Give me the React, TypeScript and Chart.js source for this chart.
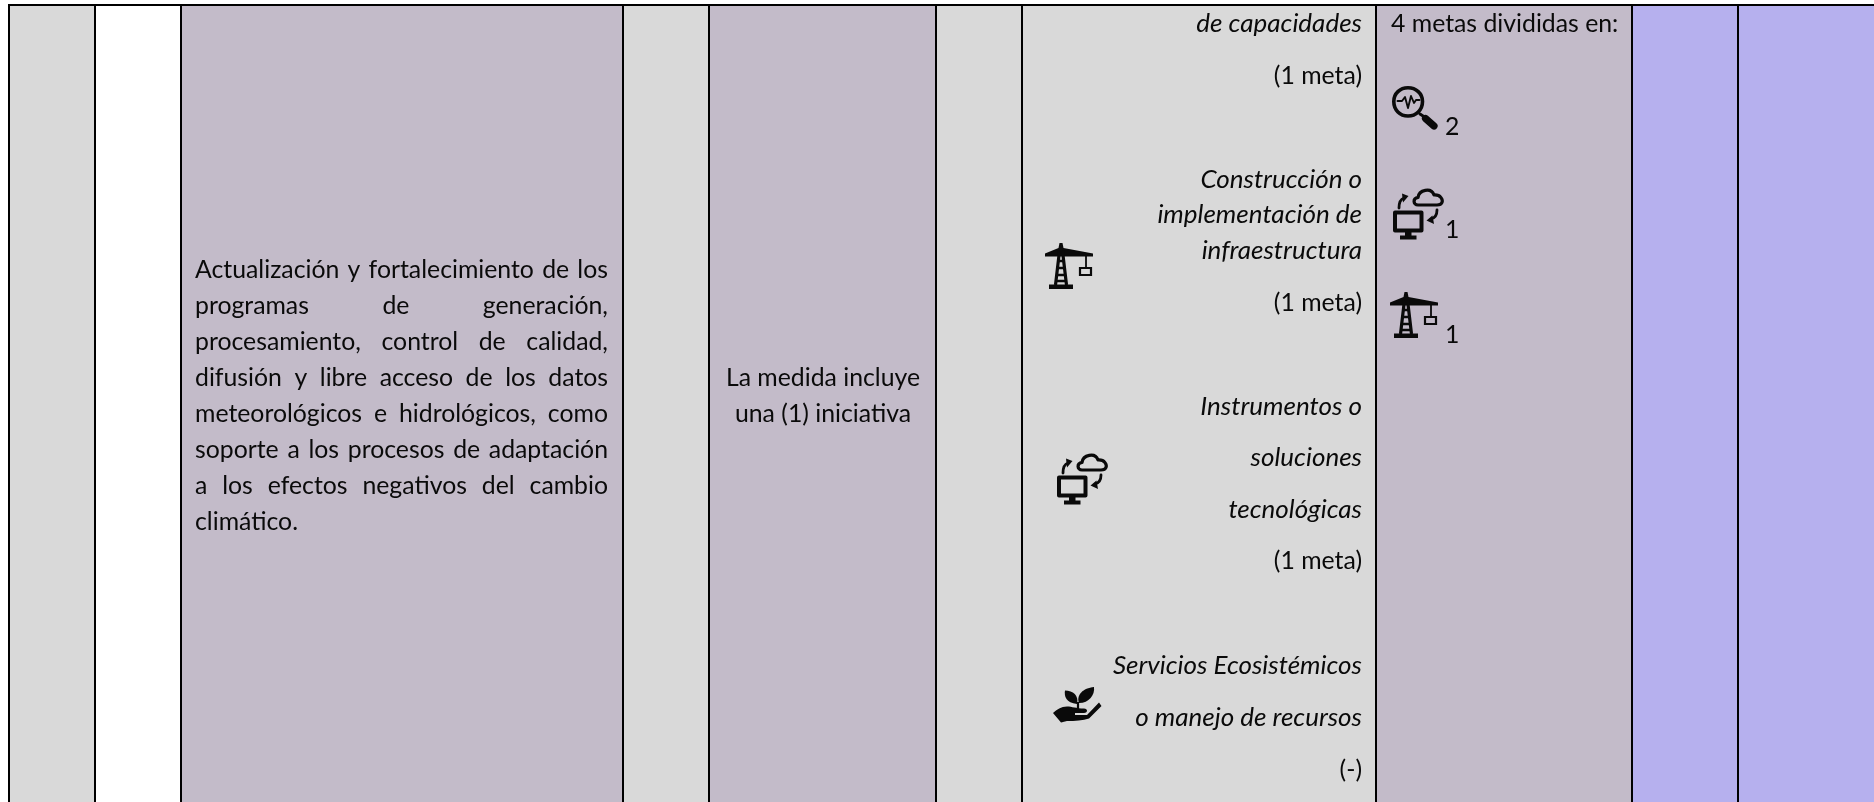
import React, { useEffect, useRef } from "react";
import { Chart, registerables } from "chart.js";

Chart.register(...registerables);

const GREY = "#D9D9D9";
const MAUVE = "#C3BBC9";
const WHITE = "#FFFFFF";
const LAVENDER = "#B6B0EE";

const rowLabels = ["Medida"];
const columnWidths = [86, 86, 442, 86, 227, 86, 354, 256, 106, 137];
const columnColors = [GREY, WHITE, MAUVE, GREY, MAUVE, GREY, GREY, MAUVE, LAVENDER, LAVENDER];

const paragraphLines = [
  "Actualización y fortalecimiento de los",
  "programas de generación,",
  "procesamiento, control de calidad,",
  "difusión y libre acceso de los datos",
  "meteorológicos e hidrológicos, como",
  "soporte a los procesos de adaptación",
  "a los efectos negativos del cambio",
  "climático.",
];
const initiativeLines = ["La medida incluye", "una (1) iniciativa"];
const goalLines: [string, boolean, number][] = [
  ["de capacidades", true, 32],
  ["(1 meta)", false, 84],
  ["Construcción o", true, 188],
  ["implementación de", true, 223],
  ["infraestructura", true, 259],
  ["(1 meta)", false, 311],
  ["Instrumentos o", true, 415],
  ["soluciones", true, 466],
  ["tecnológicas", true, 518],
  ["(1 meta)", false, 569],
  ["Servicios Ecosistémicos", true, 674],
  ["o manejo de recursos", true, 726],
  ["(-)", false, 778],
];
const goalHeader = "4 metas divididas en:";
const goalCounts: [string, number][] = [["2", 135], ["1", 238], ["1", 343]];

const FONT = "Lato, Carlito, sans-serif";
const SIZE = 24.8;
const ITALIC_SIZE = 26;

function stroke(ctx: CanvasRenderingContext2D, d: string, w: number) {
  ctx.lineWidth = w;
  ctx.stroke(new Path2D(d));
}
function fill(ctx: CanvasRenderingContext2D, d: string) {
  ctx.fill(new Path2D(d));
}

function crane(ctx: CanvasRenderingContext2D, x: number, y: number) {
  ctx.save();
  ctx.translate(x, y);
  ctx.lineCap = "butt";
  ctx.lineJoin = "miter";
  fill(ctx, "M14.5 0 L17.5 0 L18.5 5 L48 10.5 L48 13.5 L0 13.5 L0 10.5 L13.5 5 Z");
  stroke(ctx, "M14.5 8 L10.5 42 M17.5 8 L21.5 42", 3.2);
  stroke(ctx, "M13 18 H19 M12 25 H20 M11.5 32 H20.5 M11 38 H21", 2.4);
  fill(ctx, "M4 41.5 H28 V46 H4 Z");
  stroke(ctx, "M41 13 V24", 1.8);
  stroke(ctx, "M35 25 H46 V32 H35 Z", 2.2);
  ctx.restore();
}

function cloudPc(ctx: CanvasRenderingContext2D, x: number, y: number) {
  ctx.save();
  ctx.translate(x, y);
  ctx.lineJoin = "round";
  ctx.lineCap = "round";
  stroke(ctx, "M2 25.5 H28.5 V43.5 H2 Z", 4);
  fill(ctx, "M12 44 H18.5 V48.5 H23.5 V52.5 H7 V48.5 H12 Z");
  stroke(ctx, "M25 18 C20 18 19.5 11 25 10.5 C26 3 38 0 41 8 C48 7.5 50 13 49 15.5 C48 18 46 18 44 18 Z", 3.2);
  stroke(ctx, "M6 21 C6 15 8 12 11 11", 2.8);
  fill(ctx, "M15.5 9 L9 6.5 L10 15.5 Z");
  stroke(ctx, "M44 23 C44 28 42 31 38 32", 2.8);
  fill(ctx, "M33.5 33.5 L39.5 28.5 L41 37 Z");
  ctx.restore();
}

function magnifier(ctx: CanvasRenderingContext2D, x: number, y: number) {
  ctx.save();
  ctx.translate(x, y);
  ctx.lineCap = "round";
  ctx.lineJoin = "round";
  stroke(ctx, "M30.5 15.5 C30.5 24 24 30 16 30 C8 30 1.8 24 1.8 15.5 C1.8 7.5 8 1.8 16 1.8 C24 1.8 30.5 7.5 30.5 15.5 Z", 3.6);
  stroke(ctx, "M5.5 15 H10 L13 11 L16 22 L19 10 L22 17 L24 14 H27.5", 1.9);
  stroke(ctx, "M28 28 L31 30", 3);
  stroke(ctx, "M33.5 32.5 L42 40", 7.2);
  ctx.restore();
}

function plant(ctx: CanvasRenderingContext2D, x: number, y: number) {
  ctx.save();
  ctx.translate(x, y);
  fill(ctx, "M24 17 C13 16 11 9 12 3.5 C20 4 26 8 24 17 Z");
  fill(ctx, "M26 16 C23 8 30 1 41 0 C42 8 36 16 26 16 Z");
  ctx.lineWidth = 2.2;
  ctx.stroke(new Path2D("M25 15 V22"));
  fill(ctx, "M0 26 C4 22.5 8 19.5 14 19.5 C19 19.5 23 21.5 31 21.5 C35 21.5 35 26 31 26 L22 26 L22 28 L34 28 L46 15.5 L48.5 19 L36 31.5 C30 33.5 22 34 14 34 L8 35.5 Z");
  ctx.restore();
}

const tablePlugin = {
  id: "tableText",
  afterDatasetsDraw(chart: Chart) {
    const ctx = chart.ctx;
    ctx.save();
    ctx.fillStyle = "#0a0a0a";
    ctx.strokeStyle = "#0a0a0a";
    ctx.textBaseline = "alphabetic";

    const upright = `${SIZE}px ${FONT}`;
    const italic = `italic ${ITALIC_SIZE}px ${FONT}`;

    // Justified paragraph
    ctx.font = upright;
    ctx.textAlign = "left";
    const left = 195;
    const right = 608;
    paragraphLines.forEach((line, i) => {
      const y = 278 + i * 36;
      if (i === paragraphLines.length - 1) {
        ctx.fillText(line, left, y);
        return;
      }
      const words = line.split(" ");
      const total = words.reduce((s, w) => s + ctx.measureText(w).width, 0);
      const gap = (right - left - total) / (words.length - 1);
      let cx = left;
      words.forEach((w) => {
        ctx.fillText(w, cx, y);
        cx += ctx.measureText(w).width + gap;
      });
    });

    // Centred cell
    ctx.textAlign = "center";
    initiativeLines.forEach((line, i) => ctx.fillText(line, 823, 386 + i * 36));

    // Right-aligned cell
    ctx.textAlign = "right";
    goalLines.forEach(([line, it, y]) => {
      ctx.font = it ? italic : upright;
      ctx.fillText(line, 1362, y);
    });

    // Goals cell
    ctx.font = upright;
    ctx.textAlign = "left";
    ctx.fillText(goalHeader, 1391, 32);
    goalCounts.forEach(([n, y]) => ctx.fillText(n, 1445, y));

    magnifier(ctx, 1392, 86);
    cloudPc(ctx, 1393, 187);
    crane(ctx, 1390, 292);
    crane(ctx, 1045, 243);
    cloudPc(ctx, 1057, 452);
    plant(ctx, 1053, 687);
    ctx.restore();
  },
};

export default function App() {
  const ref = useRef<HTMLCanvasElement>(null);
  useEffect(() => {
    if (!ref.current) return;
    const chart = new Chart(ref.current, {
      type: "bar",
      data: {
        labels: rowLabels,
        datasets: columnWidths.map((w, i) => ({
          label: `Columna ${i + 1}`,
          data: [w],
          backgroundColor: columnColors[i],
          borderColor: "#000000",
          borderWidth: { left: 2, top: 2, right: 0, bottom: 0 },
          borderSkipped: false,
          inflateAmount: 0,
          barPercentage: 1,
          categoryPercentage: 1,
        })),
      },
      options: {
        indexAxis: "y",
        animation: false,
        responsive: false,
        maintainAspectRatio: false,
        layout: { padding: { left: 8, top: 4, right: 0, bottom: 0 } },
        plugins: { legend: { display: false }, tooltip: { enabled: false }, title: { display: false } },
        scales: {
          x: { stacked: true, display: false, min: 0, max: columnWidths.reduce((a, b) => a + b, 0) },
          y: { stacked: true, display: false },
        },
      },
      plugins: [tablePlugin],
    } as any);
    return () => chart.destroy();
  }, []);
  return (
    <div style={{ position: "fixed", left: 0, top: 0, width: 1874, height: 802, background: "#fff" }}>
      <canvas ref={ref} width={1874} height={802} style={{ display: "block" }} />
    </div>
  );
}
